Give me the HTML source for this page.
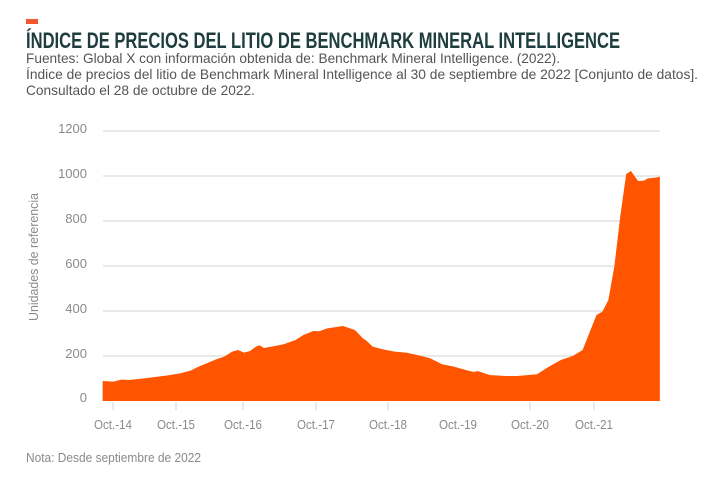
<!DOCTYPE html>
<html><head><meta charset="utf-8"><style>
body{margin:0;width:716px;height:480px;background:#fff;overflow:hidden;}
</style></head><body>
<svg width="716" height="480" style="position:absolute;left:0;top:0" font-family="Liberation Sans, sans-serif">
<rect x="26" y="19" width="12" height="5" fill="#f0582a"/>
<text x="26" y="48" font-size="22" font-weight="bold" fill="#1e3d3f" textLength="594" lengthAdjust="spacingAndGlyphs">ÍNDICE DE PRECIOS DEL LITIO DE BENCHMARK MINERAL INTELLIGENCE</text>
<g fill="#555" font-size="14">
<text x="26" y="63" textLength="534" lengthAdjust="spacingAndGlyphs">Fuentes: Global X con información obtenida de: Benchmark Mineral Intelligence. (2022).</text>
<text x="26" y="79" textLength="672" lengthAdjust="spacingAndGlyphs">Índice de precios del litio de Benchmark Mineral Intelligence al 30 de septiembre de 2022 [Conjunto de datos].</text>
<text x="26" y="95" textLength="229" lengthAdjust="spacingAndGlyphs">Consultado el 28 de octubre de 2022.</text>
</g>
<g stroke="#dcdcdc" stroke-width="1.2">
<line x1="103" x2="660" y1="131" y2="131"/><line x1="103" x2="660" y1="176" y2="176"/><line x1="103" x2="660" y1="221" y2="221"/><line x1="103" x2="660" y1="266" y2="266"/><line x1="103" x2="660" y1="311" y2="311"/><line x1="103" x2="660" y1="356" y2="356"/>
<line x1="113" x2="113" y1="402" y2="410"/><line x1="176" x2="176" y1="402" y2="410"/><line x1="243" x2="243" y1="402" y2="410"/><line x1="316" x2="316" y1="402" y2="410"/><line x1="388" x2="388" y1="402" y2="410"/><line x1="530" x2="530" y1="402" y2="410"/><line x1="594" x2="594" y1="402" y2="410"/>
</g>
<g fill="#8a8a8a" font-size="13" text-anchor="end">
<text x="87" y="133">1200</text><text x="87" y="178">1000</text><text x="87" y="223">800</text><text x="87" y="268">600</text><text x="87" y="313">400</text><text x="87" y="358">200</text><text x="87" y="402">0</text>
</g>
<g fill="#8a8a8a" font-size="13">
<text x="94" y="429" textLength="38" lengthAdjust="spacingAndGlyphs">Oct.-14</text>
<text x="157" y="429" textLength="38" lengthAdjust="spacingAndGlyphs">Oct.-15</text>
<text x="224" y="429" textLength="38" lengthAdjust="spacingAndGlyphs">Oct.-16</text>
<text x="297" y="429" textLength="38" lengthAdjust="spacingAndGlyphs">Oct.-17</text>
<text x="369" y="429" textLength="38" lengthAdjust="spacingAndGlyphs">Oct.-18</text>
<text x="439" y="429" textLength="38" lengthAdjust="spacingAndGlyphs">Oct.-19</text>
<text x="511" y="429" textLength="38" lengthAdjust="spacingAndGlyphs">Oct.-20</text>
<text x="575" y="429" textLength="38" lengthAdjust="spacingAndGlyphs">Oct.-21</text>
</g>
<text transform="translate(38,257) rotate(-90)" fill="#8a8a8a" font-size="13" text-anchor="middle" textLength="128" lengthAdjust="spacingAndGlyphs">Unidades de referencia</text>
<text x="26" y="462" fill="#8a8a8a" font-size="13" textLength="175" lengthAdjust="spacingAndGlyphs">Nota: Desde septiembre de 2022</text>
<g transform="translate(50,120) scale(0.396,0.3333)">
<path fill="#ff5500" d="M133,843 L133,783 L160,785 L180,779 L200,780 L240,775 L260,772 L300,766 L330,760 L355,752 L375,740 L400,728 L420,718 L440,710 L460,695 L475,690 L490,698 L505,693 L520,680 L530,676 L540,684 L560,680 L590,673 L620,660 L640,645 L665,633 L680,634 L700,625 L740,618 L770,630 L790,655 L800,663 L815,680 L840,688 L870,695 L900,698 L930,706 L960,715 L990,733 L1020,740 L1050,750 L1070,756 L1080,753 L1110,765 L1150,768 L1180,768 L1230,763 L1260,740 L1290,720 L1320,708 L1345,690 L1360,645 L1380,585 L1395,575 L1410,540 L1425,440 L1440,290 L1455,162 L1467,153 L1485,183 L1500,182 L1510,175 L1530,173 L1540,170 L1540,843 Z"/>
</g>
</svg>
</body></html>
